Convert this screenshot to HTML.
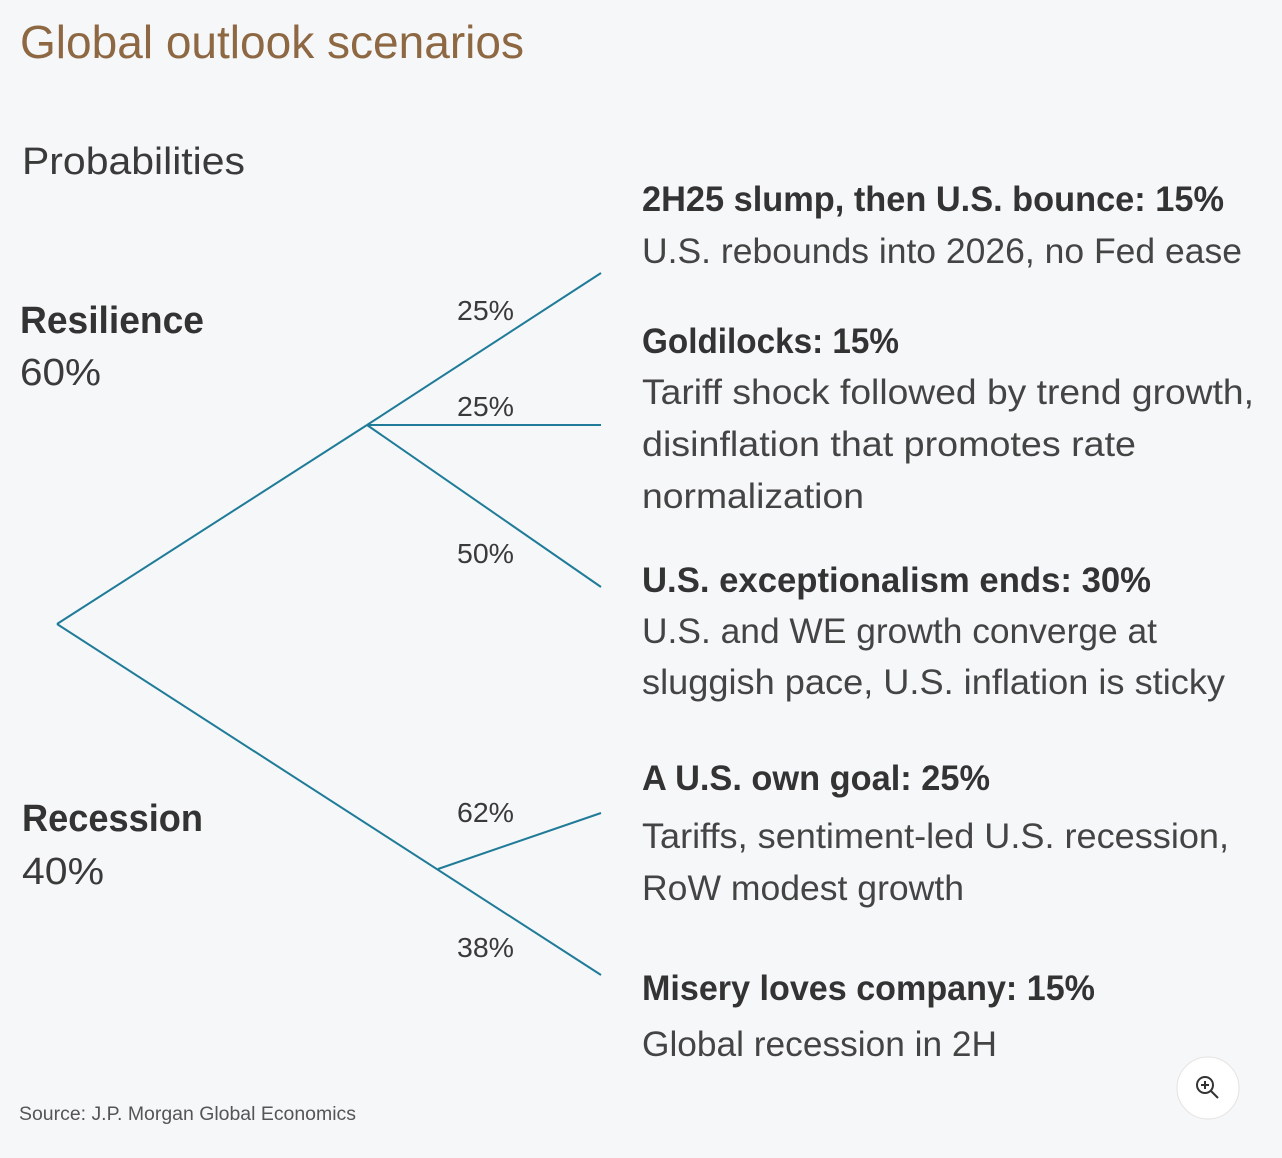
<!DOCTYPE html>
<html><head><meta charset="utf-8"><style>
html,body{margin:0;padding:0;background:#f5f7f9;}
svg{display:block;font-family:"Liberation Sans",sans-serif;}
</style></head><body>
<svg id="chart" width="1282" height="1158" viewBox="0 0 1282 1158" xmlns="http://www.w3.org/2000/svg">
<rect width="1282" height="1158" fill="#f5f7f9"/>
<text x="20" y="58" font-size="46" fill="#8d6842" textLength="504" lengthAdjust="spacingAndGlyphs">Global outlook scenarios</text>
<text x="22" y="174" font-size="38" fill="#3a3a3a" textLength="223" lengthAdjust="spacingAndGlyphs">Probabilities</text>
<text x="20" y="333" font-size="38" font-weight="bold" fill="#333" textLength="184" lengthAdjust="spacingAndGlyphs">Resilience</text>
<text x="20" y="385" font-size="38" fill="#3a3a3a" textLength="81" lengthAdjust="spacingAndGlyphs">60%</text>
<text x="22" y="831" font-size="38" font-weight="bold" fill="#333" textLength="181" lengthAdjust="spacingAndGlyphs">Recession</text>
<text x="22" y="884" font-size="38" fill="#3a3a3a" textLength="82" lengthAdjust="spacingAndGlyphs">40%</text>
<g id="tree"></g>
<g id="labels"></g>
<g id="desc"></g>
<text x="19" y="1120" font-size="19" fill="#555" textLength="337" lengthAdjust="spacingAndGlyphs">Source: J.P. Morgan Global Economics</text>
<g>
<circle cx="1208" cy="1088" r="31" fill="#fff" stroke="#e3e3e3" stroke-width="1"/>
<circle cx="1205" cy="1085" r="8" fill="none" stroke="#333" stroke-width="2"/>
<line x1="1201" y1="1085" x2="1209" y2="1085" stroke="#333" stroke-width="2"/>
<line x1="1205" y1="1081" x2="1205" y2="1089" stroke="#333" stroke-width="2"/>
<line x1="1211" y1="1091" x2="1218" y2="1098" stroke="#333" stroke-width="2"/>
</g>
</svg>
<script>
const branchLabels = ["25%","25%","50%","62%","38%"];
const branchValues = [25,25,50,62,38];
const headings = ["2H25 slump, then U.S. bounce: 15%","Goldilocks: 15%","U.S. exceptionalism ends: 30%","A U.S. own goal: 25%","Misery loves company: 15%"];
const NS="http://www.w3.org/2000/svg";
function mk(tag,attrs,parent){const e=document.createElementNS(NS,tag);for(const k in attrs)e.setAttribute(k,attrs[k]);parent.appendChild(e);return e;}
const tree=document.getElementById('tree');
const C="#1f7b97";
const segs=[[57,624,367,425],[367,425,601,273],[367,425,601,425],[367,425,601,587],[57,624,601,975],[438,869,601,813]];
segs.forEach((s,i)=>{
  const l=mk('line',{x1:s[0],y1:s[1],x2:s[2],y2:s[3],stroke:C,'stroke-width':2},tree);
  
  
});
const lab=document.getElementById('labels');
const labY=[320,416,563,822,957];
branchLabels.forEach((t,i)=>{
  const e=mk('text',{x:457,y:labY[i],'font-size':28,fill:'#3a3a3a',textLength:57,lengthAdjust:'spacingAndGlyphs'},lab);
  e.textContent=t;
  
  
});
const desc=document.getElementById('desc');
const lines=[
 [headings[0],211,1224,true],["U.S. rebounds into 2026, no Fed ease",263,1242,false],
 [headings[1],353,899,true],["Tariff shock followed by trend growth,",404,1254,false],["disinflation that promotes rate",456,1136,false],["normalization",508,864,false],
 [headings[2],592,1151,true],["U.S. and WE growth converge at",643,1157,false],["sluggish pace, U.S. inflation is sticky",694,1225,false],
 [headings[3],790,990,true],["Tariffs, sentiment-led U.S. recession,",848,1229,false],["RoW modest growth",900,964,false],
 [headings[4],1000,1095,true],["Global recession in 2H",1056,997,false]];
lines.forEach((l,i)=>{
  const e=mk('text',{x:642,y:l[1],'font-size':35,fill:l[3]?'#333':'#444','font-weight':l[3]?'bold':'normal',textLength:l[2]-642,lengthAdjust:'spacingAndGlyphs'},desc);
  e.textContent=l[0];
  
  
});
</script>
</body></html>
